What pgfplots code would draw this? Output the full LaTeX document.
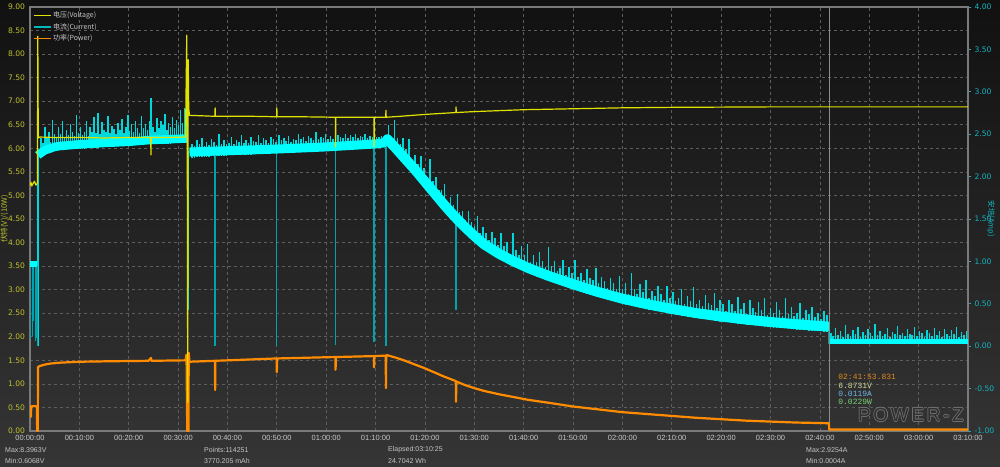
\documentclass[border=0pt]{standalone}
\usepackage{fontspec}
\setmainfont{Liberation Sans}
\newfontfamily\cjk{Noto Sans CJK SC}
\newfontfamily\dv{DejaVu Sans}
\newfontfamily\mono{Liberation Mono}
\newfontfamily\wm[LetterSpace=14]{Liberation Sans}
\usepackage{pgfplots}
\usepackage{pgfplotstable}
\pgfplotsset{compat=1.18}
\pgfplotsset{/pgf/number format/assume math mode=true}

\definecolor{bgtop}{HTML}{111111}
\definecolor{bgbot}{HTML}{353535}
\definecolor{gridc}{HTML}{5E5E5E}
\definecolor{axc}{HTML}{7A7A7A}
\definecolor{vcol}{HTML}{E2E200}
\definecolor{ccol}{HTML}{00FFFF}
\definecolor{scol}{HTML}{00D8DC}
\definecolor{dcol}{HTML}{00A4AE}
\definecolor{pcol}{HTML}{FF8C00}
\definecolor{ylab}{HTML}{C0C030}
\definecolor{ylabb}{HTML}{14B4C0}
\definecolor{xlab}{HTML}{C8C8C8}
\definecolor{txt}{HTML}{C4C4C4}
\definecolor{curs}{HTML}{8C8C8C}
\definecolor{infoO}{HTML}{E08A1E}
\definecolor{infoV}{HTML}{D2DC96}
\definecolor{infoA}{HTML}{6EB4E6}
\definecolor{infoW}{HTML}{78D278}
\definecolor{wmc}{HTML}{727272}
\definecolor{wmbg}{HTML}{2E2E2E}

% spikes / drop lines of the current: t (min), base (A), tip (A)
\pgfplotstableread{
t b h
0.15 0.95 0.08
0.45 0.95 0.12
0.75 0.95 0.30
1.05 0.95 0.06
1.30 0.95 0.10
1.50 0.95 0.00
1.58 0.00 2.25
2.2 2.23 2.45
2.6 2.25 2.40
3.0 2.26 2.58
3.4 2.27 2.45
3.8 2.28 2.53
4.2 2.28 2.41
4.6 2.29 2.67
5.0 2.30 2.50
5.4 2.30 2.46
5.8 2.31 2.59
6.2 2.31 2.50
6.6 2.31 2.65
7.0 2.32 2.46
7.4 2.32 2.55
7.8 2.32 2.49
8.2 2.32 2.62
8.6 2.32 2.53
9.0 2.33 2.48
9.4 2.33 2.73
9.8 2.33 2.51
10.2 2.33 2.59
10.6 2.33 2.49
11.0 2.33 2.53
11.4 2.34 2.65
11.8 2.34 2.48
12.2 2.34 2.58
12.6 2.34 2.53
13.0 2.34 2.70
13.4 2.34 2.51
13.8 2.34 2.75
14.2 2.35 2.50
14.6 2.35 2.64
15.0 2.35 2.55
15.4 2.35 2.53
15.8 2.35 2.72
16.2 2.35 2.51
16.6 2.35 2.60
17.0 2.35 2.56
17.4 2.36 2.50
17.8 2.36 2.63
18.2 2.36 2.55
18.6 2.36 2.68
19.0 2.36 2.51
19.4 2.36 2.59
19.8 2.36 2.73
20.2 2.36 2.54
20.6 2.37 2.62
21.0 2.37 2.53
21.4 2.37 2.66
21.8 2.37 2.57
22.2 2.37 2.51
22.6 2.37 2.71
23.0 2.38 2.57
23.4 2.38 2.62
23.8 2.38 2.55
24.2 2.38 2.66
24.5 2.38 2.93
24.9 2.38 2.59
25.3 2.38 2.53
25.7 2.38 2.69
26.1 2.39 2.57
26.5 2.39 2.65
26.9 2.39 2.61
27.3 2.39 2.74
27.7 2.39 2.55
28.1 2.39 2.63
28.5 2.39 2.58
28.9 2.40 2.70
29.3 2.40 2.57
29.7 2.40 2.67
30.1 2.40 2.61
30.5 2.40 2.78
30.9 2.40 2.63
31.3 2.40 2.81
31.7 2.40 2.92
31.9 2.40 0.43
32.15 0.43 2.30
32.8 2.22 2.38
33.3 2.22 2.36
33.8 2.23 2.43
34.3 2.23 2.385
34.8 2.23 2.46
35.3 2.23 2.36
35.8 2.23 2.405
36.3 2.23 2.375
36.8 2.24 2.44
37.3 2.24 2.405
37.5 2.24 0.00
37.8 2.24 2.375
38.3 2.24 2.50
38.8 2.24 2.39
39.3 2.24 2.43
39.8 2.245 2.38
40.3 2.25 2.40
40.8 2.25 2.465
41.3 2.25 2.38
41.8 2.25 2.43
42.3 2.255 2.405
42.8 2.255 2.49
43.3 2.26 2.395
43.8 2.26 2.43
44.3 2.26 2.395
44.8 2.26 2.465
45.3 2.265 2.42
45.8 2.265 2.41
46.3 2.27 2.485
46.8 2.27 2.40
47.3 2.27 2.455
47.8 2.27 2.435
48.3 2.275 2.40
48.8 2.275 2.465
49.3 2.28 2.44
49.8 2.28 2.405
50.0 2.28 0.00
50.4 2.28 2.49
50.9 2.28 2.435
51.4 2.28 2.46
51.9 2.285 2.425
52.4 2.285 2.48
52.9 2.29 2.41
53.4 2.29 2.44
53.9 2.29 2.43
54.4 2.29 2.505
54.9 2.29 2.44
55.4 2.295 2.465
55.9 2.295 2.425
56.4 2.30 2.48
56.9 2.30 2.45
57.4 2.30 2.43
57.9 2.30 2.53
58.4 2.30 2.44
58.9 2.30 2.47
59.4 2.30 2.45
59.9 2.30 2.50
60.4 2.305 2.445
60.9 2.31 2.475
61.4 2.31 2.44
61.9 2.31 0.02
62.4 2.315 2.49
62.9 2.32 2.465
63.4 2.32 2.45
63.9 2.325 2.505
64.4 2.33 2.455
64.9 2.33 2.49
65.4 2.335 2.47
65.9 2.34 2.505
66.4 2.34 2.45
66.9 2.345 2.48
67.4 2.345 2.47
67.9 2.35 2.505
68.4 2.35 2.46
68.9 2.35 2.48
69.4 2.355 2.47
69.7 2.355 0.05
70.2 2.355 2.465
70.7 2.36 2.47
71.2 2.36 2.48
72.1 2.37 0.00
72.6 2.36 2.61
73.2 2.33 2.46
73.8 2.29 2.67
74.4 2.25 2.45
75.0 2.22 2.38
75.6 2.18 2.46
76.2 2.14 2.33
76.8 2.10 2.44
77.4 2.06 2.20
78.0 2.02 2.25
78.6 1.98 2.15
79.2 1.94 2.24
79.8 1.89 2.10
80.4 1.85 2.00
81.0 1.81 2.21
81.6 1.77 1.95
82.2 1.73 1.99
82.8 1.68 1.84
83.4 1.64 1.84
84.0 1.60 1.91
84.6 1.56 1.70
85.2 1.52 1.76
85.8 1.48 1.67
86.3 1.45 0.43
86.6 1.44 1.80
87.0 1.41 1.58
87.6 1.37 1.59
88.2 1.34 1.49
88.8 1.31 1.60
89.4 1.27 1.47
90.0 1.24 1.42
90.6 1.21 1.54
91.2 1.18 1.34
91.8 1.15 1.40
92.4 1.13 1.34
93.0 1.11 1.25
93.6 1.08 1.35
94.2 1.06 1.28
94.8 1.04 1.19
95.4 1.02 1.34
96.0 1.00 1.18
96.6 0.98 1.23
97.2 0.96 1.09
97.8 0.95 1.33
98.4 0.93 1.13
99.0 0.91 1.07
99.6 0.90 1.18
100.2 0.88 1.07
100.8 0.87 1.21
101.4 0.85 0.99
102.0 0.84 1.07
102.6 0.82 0.99
103.2 0.81 1.11
103.8 0.80 1.01
104.4 0.78 0.93
105.0 0.77 1.17
105.6 0.76 0.94
106.2 0.75 1.01
106.8 0.73 0.89
107.4 0.72 0.92
108.0 0.71 1.02
108.6 0.70 0.84
109.2 0.69 0.93
109.8 0.67 0.86
110.4 0.66 1.02
111.0 0.65 0.82
111.6 0.64 0.86
112.2 0.63 0.78
112.8 0.62 0.91
113.4 0.61 0.81
114.0 0.60 0.78
114.6 0.59 0.92
115.2 0.58 0.74
115.8 0.57 0.82
116.4 0.56 0.77
117.0 0.55 0.69
117.6 0.54 0.81
118.2 0.53 0.75
118.8 0.52 0.67
119.4 0.51 0.83
120.0 0.50 0.68
120.6 0.49 0.74
121.2 0.485 0.615
121.8 0.48 0.86
122.4 0.47 0.67
123.0 0.46 0.62
123.6 0.455 0.735
124.2 0.445 0.635
124.8 0.44 0.78
125.4 0.43 0.57
126.0 0.425 0.655
126.6 0.42 0.59
127.2 0.41 0.71
127.8 0.405 0.615
128.4 0.40 0.55
129.0 0.39 0.71
129.6 0.385 0.565
130.2 0.38 0.64
130.8 0.37 0.53
131.4 0.365 0.565
132.0 0.36 0.67
132.6 0.355 0.495
133.2 0.35 0.59
133.8 0.345 0.535
134.4 0.335 0.695
135.0 0.33 0.50
135.6 0.325 0.545
136.2 0.32 0.47
136.8 0.315 0.605
137.4 0.31 0.51
138.0 0.305 0.485
138.6 0.30 0.63
139.2 0.295 0.455
139.8 0.29 0.54
140.4 0.285 0.495
141.0 0.28 0.42
141.6 0.28 0.55
142.2 0.275 0.495
142.8 0.27 0.42
143.4 0.265 0.585
144.0 0.26 0.44
144.6 0.26 0.51
145.2 0.255 0.385
145.8 0.25 0.55
146.4 0.245 0.445
147.0 0.24 0.40
147.6 0.24 0.52
148.2 0.235 0.425
148.8 0.23 0.57
149.4 0.23 0.37
150.0 0.225 0.455
150.6 0.22 0.39
151.2 0.22 0.52
151.8 0.215 0.425
152.4 0.21 0.36
153.0 0.21 0.57
153.6 0.205 0.385
154.2 0.20 0.46
154.8 0.20 0.36
155.4 0.195 0.395
156.0 0.195 0.505
156.6 0.19 0.33
157.2 0.19 0.43
157.8 0.185 0.375
158.4 0.18 0.46
159.0 0.18 0.35
159.6 0.175 0.395
160.2 0.175 0.325
160.8 0.17 0.42
161.4 0.17 0.37
161.85 0.17 0.03
162.2 0.025 0.157
162.7 0.025 0.115
163.2 0.025 0.217
163.7 0.025 0.133
164.2 0.025 0.175
164.7 0.025 0.103
165.2 0.025 0.253
165.7 0.025 0.145
166.2 0.025 0.121
166.7 0.025 0.193
167.2 0.025 0.139
167.7 0.025 0.229
168.2 0.025 0.109
168.7 0.025 0.163
169.2 0.025 0.127
169.7 0.025 0.205
170.2 0.025 0.151
170.7 0.025 0.115
171.2 0.025 0.265
171.7 0.025 0.133
172.2 0.025 0.181
172.7 0.025 0.121
173.2 0.025 0.145
173.7 0.025 0.211
174.2 0.025 0.109
174.7 0.025 0.169
175.2 0.025 0.139
175.7 0.025 0.241
176.2 0.025 0.127
176.7 0.025 0.157
177.2 0.025 0.115
177.7 0.025 0.199
178.2 0.025 0.145
178.7 0.025 0.133
179.2 0.025 0.223
179.7 0.025 0.121
180.2 0.025 0.175
180.7 0.025 0.151
181.2 0.025 0.109
181.7 0.025 0.187
182.2 0.025 0.157
182.7 0.025 0.115
183.2 0.025 0.217
183.7 0.025 0.133
184.2 0.025 0.175
184.7 0.025 0.103
185.2 0.025 0.205
185.7 0.025 0.145
186.2 0.025 0.121
186.7 0.025 0.193
187.2 0.025 0.139
187.7 0.025 0.229
188.2 0.025 0.109
188.7 0.025 0.163
189.2 0.025 0.127
189.7 0.025 0.185
}\spikes

\begin{document}
\begin{tikzpicture}[x=1pt,y=1pt]
\shade[top color=bgtop, bottom color=bgbot] (0,0) rectangle (1000,466);

% ---------- axis 1: frame, grid, left ticks, x ticks ----------
\begin{axis}[
  at={(30pt,35pt)}, anchor=south west, scale only axis,
  width=938pt, height=424pt,
  xmin=0, xmax=190, ymin=0, ymax=9,
  xtick={0,10,...,190},
  xticklabels={00:00:00,00:10:00,00:20:00,00:30:00,00:40:00,00:50:00,01:00:00,01:10:00,01:20:00,01:30:00,01:40:00,01:50:00,02:00:00,02:10:00,02:20:00,02:30:00,02:40:00,02:50:00,03:00:00,03:10:00},
  ytick={0,0.5,...,9.01},
  scaled y ticks=false,
  yticklabel style={/pgf/number format/.cd, fixed, fixed zerofill, precision=2, assume math mode=true, /tikz/.cd, text=ylab, font=\dv\fontsize{7.6}{9}\selectfont, xshift=-1.5pt},
  xticklabel style={text=xlab, font=\fontsize{7.5}{9}\selectfont, yshift=-0.5pt},
  ytick pos=left, xtick pos=bottom,
  major tick length=0pt,
  grid=major,
  major grid style={draw=gridc, line width=0.7pt, dash pattern=on 3pt off 3pt},
  axis line style={draw=axc, line width=1.3pt, -},
  ylabel={伏特(V)/(10W)},
  every axis y label/.style={at={(axis description cs:-0.0272,0.5)}, anchor=center, rotate=90, text=ylab, font=\cjk\fontsize{7.5}{9}\selectfont},
]
\addplot[draw=none, forget plot] coordinates {(0,0) (190,9)};
\end{axis}

% ---------- axis 2: current (right axis) ----------
\begin{axis}[
  at={(30pt,35pt)}, anchor=south west, scale only axis,
  width=938pt, height=424pt,
  xmin=0, xmax=190, ymin=-1, ymax=4,
  axis x line=none, axis y line*=right,
  ytick={-1,-0.5,...,4.01},
  scaled y ticks=false,
  yticklabel style={/pgf/number format/.cd, fixed, fixed zerofill, precision=2, assume math mode=true, /tikz/.cd, text=ylabb, font=\dv\fontsize{7.6}{9}\selectfont},
  major tick length=3pt, tick align=outside,
  tick style={draw=ylabb!70!gray, line width=0.8pt},
  axis line style={draw=axc, line width=1.3pt, -},
  ylabel={安培(Amp)},
  every axis y label/.style={at={(axis description cs:1.0245,0.5)}, anchor=center, rotate=-90, text=ylabb, font=\cjk\fontsize{7.5}{9}\selectfont},
]
% upward spikes (drawn first, the solid band covers their feet)
\addplot[scol, line width=1.5pt, restrict expr to domain={\thisrow{h}-\thisrow{b}}{0:10},
  quiver={u=0, v=\thisrow{h}-\thisrow{b}, every arrow/.append style={draw=scol, line width=1.5pt}}] table[x=t, y=b] {\spikes};
% downward drops
\addplot[dcol, line width=1.3pt, restrict expr to domain={\thisrow{h}-\thisrow{b}}{-10:0},
  quiver={u=0, v=\thisrow{h}-\thisrow{b}, every arrow/.append style={draw=dcol, line width=1.3pt}}] table[x=t, y=b] {\spikes};
% solid current band, segment by segment
\addplot[ccol, line width=6pt, line cap=butt] coordinates {(0,0.965) (1.5,0.965)};
\addplot[ccol, line width=8.5pt, line cap=butt, line join=round] coordinates {
(1.6,2.25) (2,2.27) (3,2.31) (4,2.33) (5,2.35) (6,2.36) (8,2.37) (10,2.38) (13,2.39) (16,2.40) (20,2.41) (24,2.43) (28,2.44) (31.8,2.45)};
\addplot[ccol, line width=9pt, line cap=butt, line join=round] coordinates {
(32.3,2.29) (40,2.305) (50,2.325) (60,2.35) (70,2.385) (72.0,2.40)};
\addplot[ccol, line width=10pt, line cap=butt, line join=round] coordinates {
(72.0,2.40) (72.4,2.44) (74,2.34) (76,2.21) (78,2.08) (80,1.94) (82,1.80) (84,1.66) (86,1.53) (88,1.41) (90,1.30) (92,1.20) (95,1.09) (98,1.00) (101,0.92) (105,0.83) (110,0.73) (115,0.64) (120,0.56) (125,0.495) (130,0.44) (135,0.39) (140,0.35) (145,0.315) (150,0.285) (155,0.26) (161.85,0.23)};
\addplot[ccol, line width=5pt, line cap=butt] coordinates {(161.9,0.055) (190,0.055)};
\end{axis}

% ---------- axis 3: voltage and power (left scale) ----------
\begin{axis}[
  at={(30pt,35pt)}, anchor=south west, scale only axis,
  width=938pt, height=424pt,
  xmin=0, xmax=190, ymin=0, ymax=9,
  hide axis,
  legend style={at={(axis description cs:0.002,0.995)}, anchor=north west, draw=none, fill=none,
    font=\cjk\fontsize{7}{8}\selectfont, text=txt, inner sep=1pt, row sep=1.2pt,
    nodes={inner sep=1.5pt}},
  legend cell align=left,
]
\addlegendimage{vcol, line width=1.5pt}
\addlegendentry{电压(Voltage)}
\addlegendimage{scol!85!black, line width=1.5pt}
\addlegendentry{电流(Current)}
\addlegendimage{pcol, line width=1.5pt}
\addlegendentry{功率(Power)}

% cursor
\addplot[curs, line width=1pt, forget plot] coordinates {(161.9,0) (161.9,9)};

% power (10 W)
\addplot[pcol, line width=2.2pt, line join=round, forget plot] coordinates {
(0,0.52) (0.15,0.53) (0.2,0.30) (0.25,0.52) (0.8,0.53) (1.4,0.52) (1.45,0.0) (1.58,0.0) (1.62,1.36)
(2,1.38) (3,1.41) (4,1.43) (6,1.45) (10,1.47) (16,1.48) (24,1.49) (24.5,1.55) (24.6,1.49)
(31.5,1.50) (31.7,1.62) (31.85,0.0) (32.1,0.0) (32.15,1.66) (32.3,1.47)
(37.45,1.49) (37.5,0.87) (37.55,1.49) (49.95,1.54) (50.0,1.25) (50.05,1.54)
(61.85,1.57) (61.9,1.30) (61.95,1.57) (69.65,1.59) (69.7,1.35) (69.75,1.59)
(72.05,1.60) (72.1,0.91) (72.15,1.60) (72.3,1.61) (74,1.56) (76,1.49) (78,1.41) (80,1.33)
(82,1.24) (84,1.15) (86,1.07) (86.25,1.06) (86.3,0.62) (86.35,1.05) (88,0.98) (90,0.91)
(92,0.85) (95,0.78) (98,0.72) (101,0.66) (105,0.60) (110,0.52) (115,0.46) (120,0.40)
(125,0.36) (130,0.32) (135,0.28) (140,0.25) (145,0.22) (150,0.20) (155,0.18) (161.8,0.165)
(161.9,0.03) (190,0.03)};

% voltage
\addplot[vcol, line width=1.2pt, line join=round, forget plot] coordinates {
(0,5.22) (0.2,5.28) (0.35,5.20) (0.6,5.25) (0.9,5.30) (1.2,5.22) (1.5,5.26) (1.58,8.38) (1.68,6.22)
(2,6.24) (5,6.23) (10,6.23) (15,6.22) (20,6.23) (24.45,6.23) (24.5,5.86) (24.55,6.23) (28,6.23)
(31.5,6.24) (31.75,8.40) (31.85,6.40) (31.95,0.61) (32.05,7.88) (32.15,6.85) (32.3,6.70)
(35,6.69) (37.45,6.68) (37.5,6.86) (37.55,6.68) (45,6.68) (49.95,6.67) (50.0,6.86) (50.05,6.67)
(55,6.67) (61.85,6.66) (61.9,6.03) (61.95,6.66) (69.65,6.66) (69.7,6.03) (69.75,6.66)
(72.05,6.66) (72.1,6.81) (72.15,6.66) (75,6.68) (80,6.72) (86.25,6.76) (86.3,6.88) (86.35,6.76)
(90,6.78) (95,6.80) (100,6.82) (105,6.83) (110,6.84) (115,6.85) (120,6.86) (130,6.87)
(140,6.875) (150,6.88) (190,6.88)};

% cursor read-out
\node[anchor=west, text=infoO, font=\mono\fontsize{8}{9}\selectfont, inner sep=0pt] at (axis cs:163.7,1.146) {02:41:53.831};
\node[anchor=west, text=infoV, font=\mono\fontsize{8}{9}\selectfont, inner sep=0pt] at (axis cs:163.7,0.960) {6.8731V};
\node[anchor=west, text=infoA, font=\mono\fontsize{8}{9}\selectfont, inner sep=0pt] at (axis cs:163.7,0.785) {0.0119A};
\node[anchor=west, text=infoW, font=\mono\fontsize{8}{9}\selectfont, inner sep=0pt] at (axis cs:163.7,0.612) {0.0229W};
\end{axis}

% watermark (outlined look)
\begin{scope}[every node/.style={font=\wm\fontsize{19}{19}\selectfont, inner sep=0pt}]
\node[text=wmc] at (910.2,51) {POWER-Z};
\node[text=wmc] at (911.8,51) {POWER-Z};
\node[text=wmc] at (911,51.8) {POWER-Z};
\node[text=wmc] at (911,50.2) {POWER-Z};
\node[text=wmbg] at (911,51) {POWER-Z};
\end{scope}

% statistics under the chart
\begin{scope}[every node/.style={anchor=west, text=txt, font=\fontsize{7}{8}\selectfont, inner sep=0pt}]
\node at (5,16) {Max:8.3963V};
\node at (5,5) {Min:0.6068V};
\node at (204,16) {Points:114251};
\node at (204,5) {3770.205 mAh};
\node at (388,16) {Elapsed:03:10:25};
\node at (388,5) {24.7042 Wh};
\node at (806,16) {Max:2.9254A};
\node at (806,5) {Min:0.0004A};
\end{scope}

\pgfresetboundingbox
\path[use as bounding box] (0,0) rectangle (1000,466);
\end{tikzpicture}
\end{document}
